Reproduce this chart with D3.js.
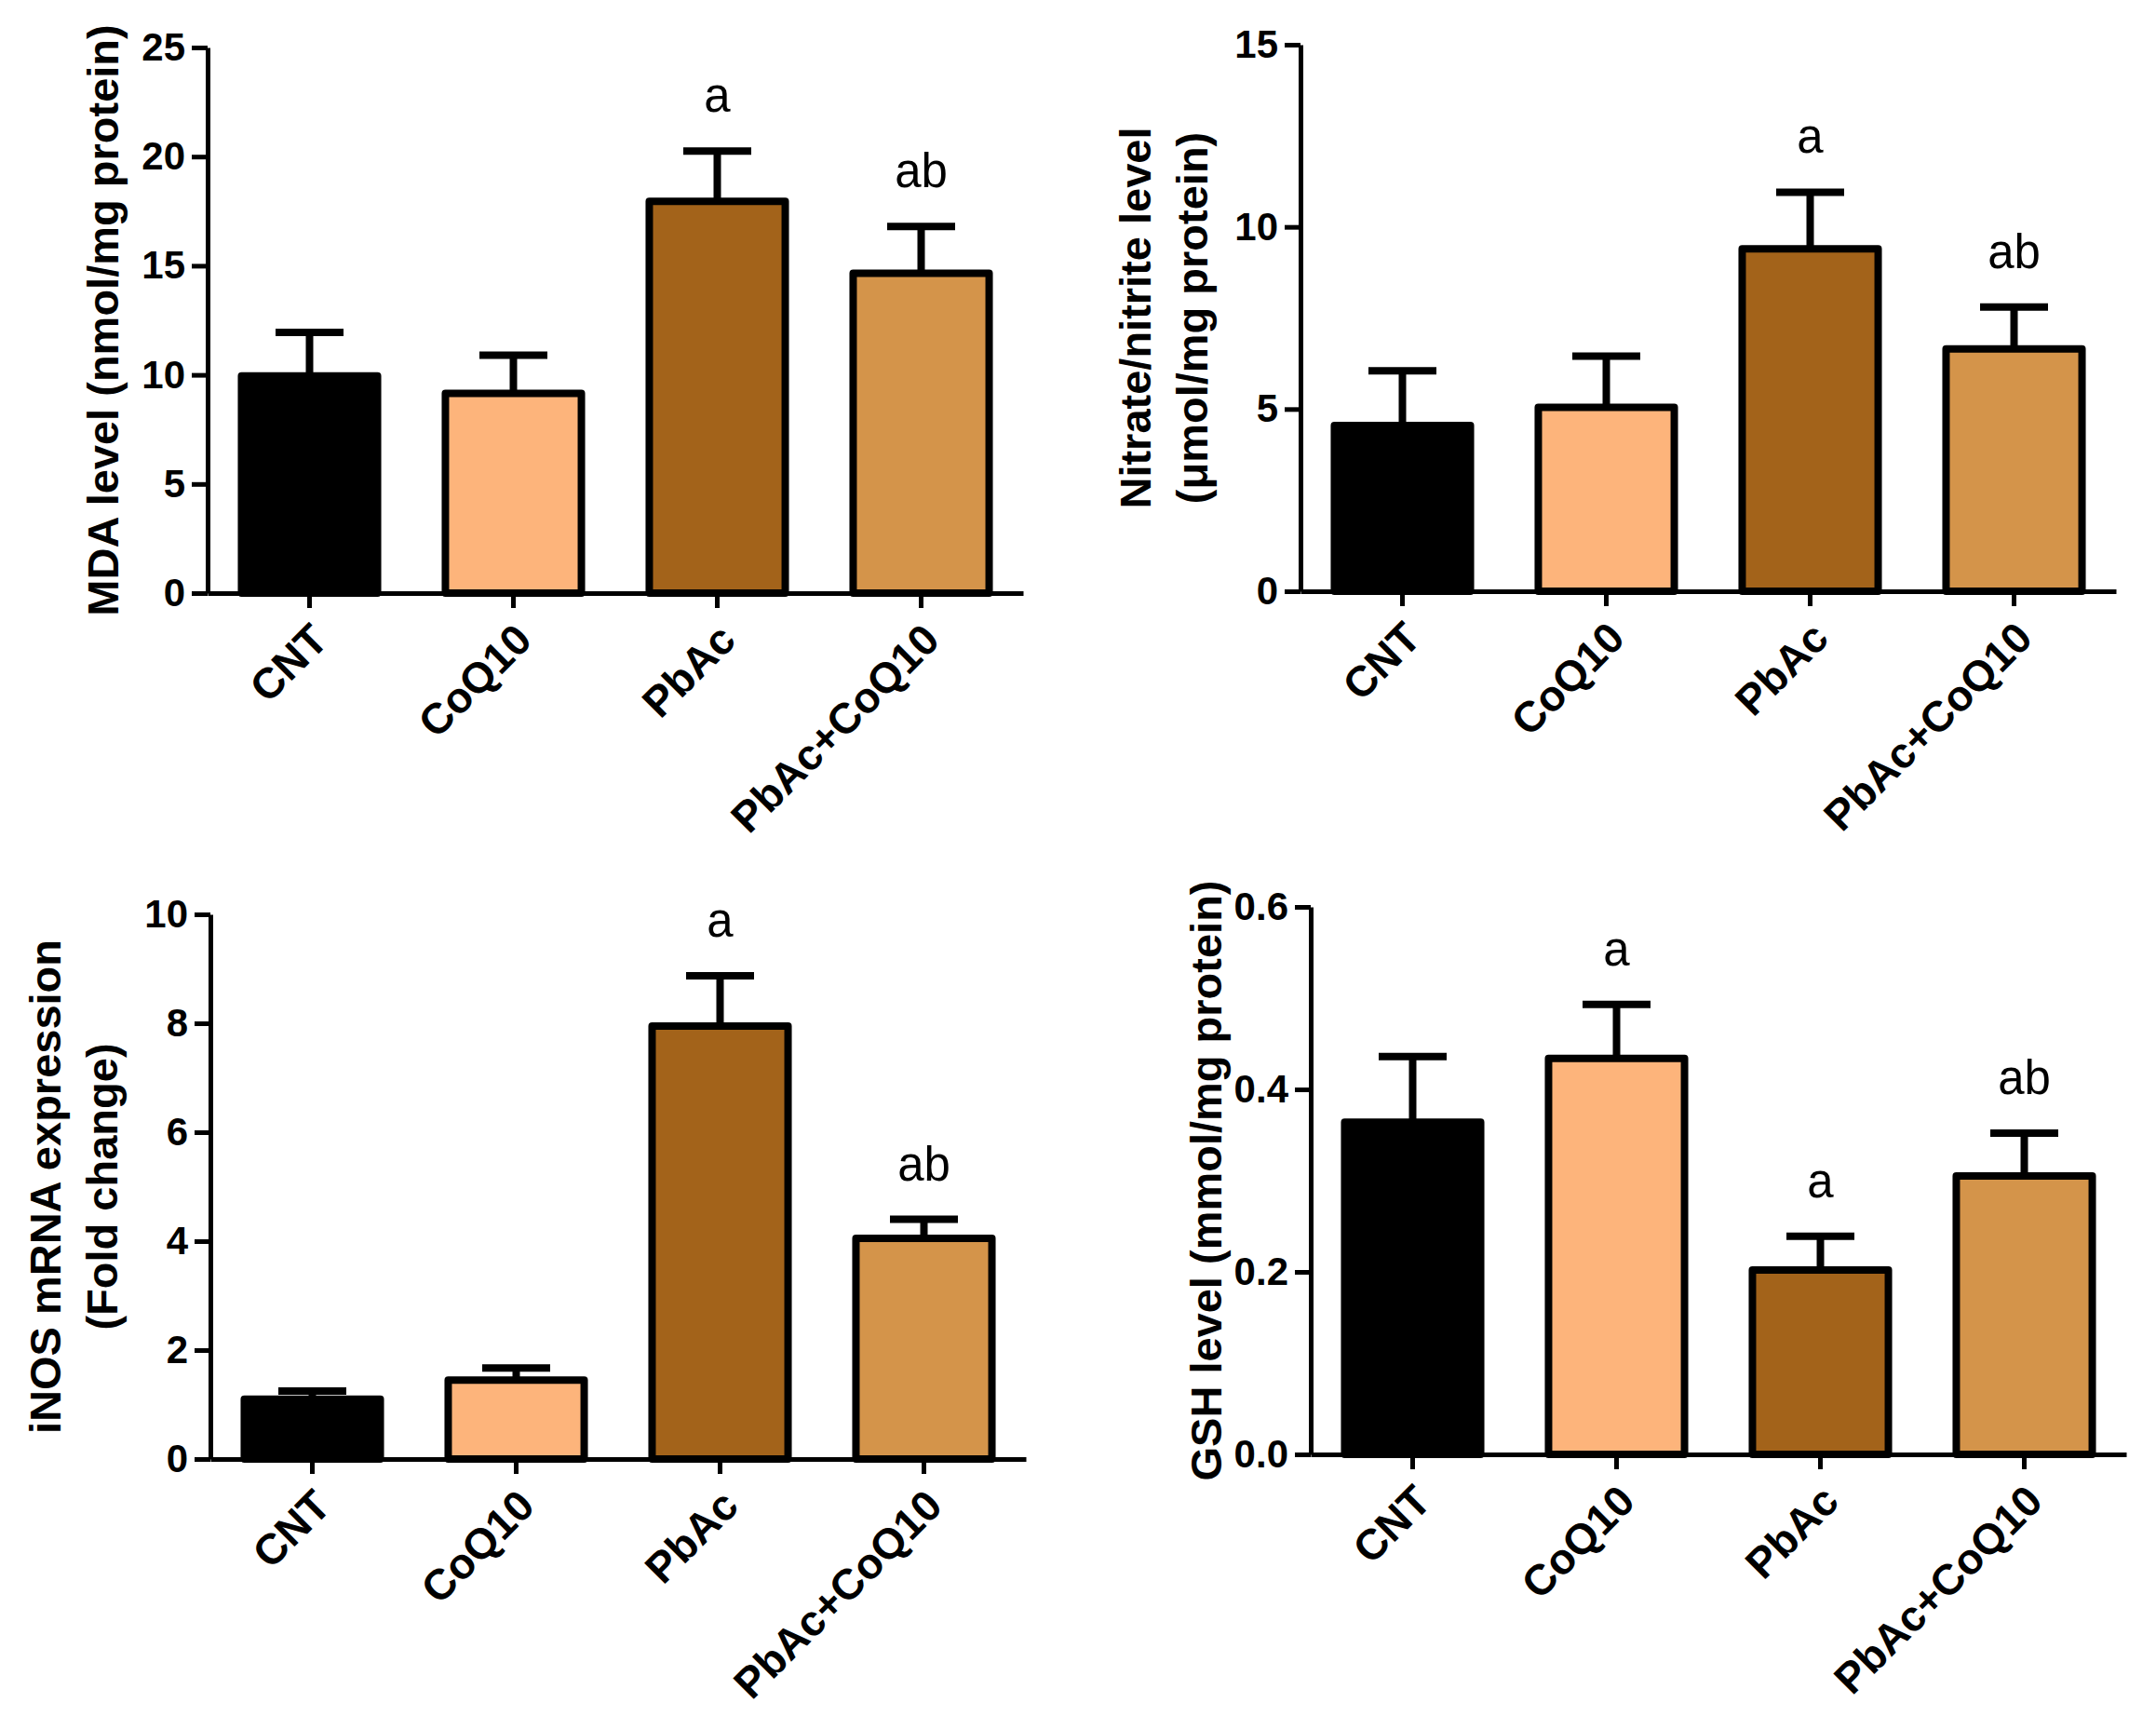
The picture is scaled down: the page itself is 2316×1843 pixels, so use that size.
<!DOCTYPE html>
<html>
<head>
<meta charset="utf-8">
<script src="https://cdn.jsdelivr.net/npm/d3@7"></script>
<style>
  body { margin: 0; background: #fff; }
  svg { display: block; font-family: "Liberation Sans", Arial, sans-serif; }
  .axis path, .axis line { stroke: #000; stroke-width: 5; }
  .axis text { font-size: 42px; font-weight: bold; fill: #000; }
  .cat-label { font-size: 46px; font-weight: bold; }
  .y-title { font-size: 47px; font-weight: bold; }
  .sig { font-size: 51px; }
</style>
</head>
<body>
<div id="chart"></div>
<script>
const width = 2316;
const height = 1843;

const groups = ["CNT", "CoQ10", "PbAc", "PbAc+CoQ10"];
const barColors = ["#000000", "#fdb47b", "#a3631a", "#d4944a"];

const mdaMean = [9.95, 9.15, 17.95, 14.65];
const mdaSem = [2.0, 1.75, 2.3, 2.15];
const mdaLetters = ["", "", "a", "ab"];
const mdaTicks = [0, 5, 10, 15, 20, 25];

const nitrateMean = [4.55, 5.05, 9.4, 6.65];
const nitrateSem = [1.5, 1.4, 1.55, 1.15];
const nitrateLetters = ["", "", "a", "ab"];
const nitrateTicks = [0, 5, 10, 15];

const inosMean = [1.1, 1.45, 7.95, 4.05];
const inosSem = [0.15, 0.22, 0.92, 0.35];
const inosLetters = ["", "", "a", "ab"];
const inosTicks = [0, 2, 4, 6, 8, 10];

const gshMean = [0.364, 0.434, 0.202, 0.305];
const gshSem = [0.072, 0.059, 0.037, 0.047];
const gshLetters = ["", "a", "a", "ab"];
const gshTicks = [0, 0.2, 0.4, 0.6];

const BAR_STROKE = 8;
const CAP_WIDTH = 73;

const svg = d3.select("#chart")
  .append("svg")
  .attr("width", width)
  .attr("height", height);

svg.append("rect").attr("width", width).attr("height", height).attr("fill", "#fff");

function drawPanel(opts) {
  const { left, right, top, bottom, means, sems, letters, ticks, format, title } = opts;

  const x = d3.scaleBand()
    .domain(groups)
    .range([left, right])
    .paddingInner(0.333)
    .paddingOuter(0.1665);

  const y = d3.scaleLinear()
    .domain([ticks[0], ticks[ticks.length - 1]])
    .range([bottom, top]);

  const g = svg.append("g");

  const rows = groups.map((name, i) => ({
    name,
    mean: means[i],
    sem: sems[i],
    letter: letters[i],
    color: barColors[i],
  }));

  // error bars (upper only), drawn under the bars
  g.selectAll(".err")
    .data(rows)
    .join("line")
    .attr("x1", d => x(d.name) + x.bandwidth() / 2)
    .attr("x2", d => x(d.name) + x.bandwidth() / 2)
    .attr("y1", d => y(d.mean))
    .attr("y2", d => y(d.mean + d.sem))
    .attr("stroke", "#000")
    .attr("stroke-width", BAR_STROKE);

  g.selectAll(".cap")
    .data(rows)
    .join("line")
    .attr("x1", d => x(d.name) + x.bandwidth() / 2 - CAP_WIDTH / 2)
    .attr("x2", d => x(d.name) + x.bandwidth() / 2 + CAP_WIDTH / 2)
    .attr("y1", d => y(d.mean + d.sem))
    .attr("y2", d => y(d.mean + d.sem))
    .attr("stroke", "#000")
    .attr("stroke-width", BAR_STROKE);

  g.selectAll(".bar")
    .data(rows)
    .join("rect")
    .attr("x", d => x(d.name))
    .attr("width", x.bandwidth())
    .attr("y", d => y(d.mean))
    .attr("height", d => y(0) - y(d.mean))
    .attr("fill", d => d.color)
    .attr("stroke", "#000")
    .attr("stroke-width", BAR_STROKE)
    .attr("stroke-linejoin", "round");

  g.selectAll(".sig")
    .data(rows.filter(d => d.letter))
    .join("text")
    .attr("class", "sig")
    .attr("x", d => x(d.name) + x.bandwidth() / 2)
    .attr("y", d => y(d.mean + d.sem) - 42)
    .attr("text-anchor", "middle")
    .text(d => d.letter);

  g.append("g")
    .attr("class", "axis")
    .attr("transform", `translate(0,${bottom})`)
    .call(d3.axisBottom(x).tickSize(16).tickSizeOuter(0).tickFormat(""));

  g.append("g")
    .attr("class", "axis")
    .attr("transform", `translate(${left},0)`)
    .call(d3.axisLeft(y).tickValues(ticks).tickSize(17).tickSizeOuter(0).tickPadding(7).tickFormat(format));

  g.selectAll(".cat-label")
    .data(groups)
    .join("text")
    .attr("class", "cat-label")
    .attr("text-anchor", "end")
    .attr("transform", d => `translate(${x(d) + x.bandwidth() / 2 + 22},${bottom + 53}) rotate(-45)`)
    .text(d => d);

  const midY = (top + bottom) / 2;
  const t = g.append("text")
    .attr("class", "y-title")
    .attr("text-anchor", "middle")
    .attr("transform", `translate(${left},${midY}) rotate(-90)`);

  if (title.length === 1) {
    t.append("tspan").attr("x", 0).attr("y", -96).text(title[0]);
  } else {
    t.append("tspan").attr("x", 0).attr("y", -161).text(title[0]);
    t.append("tspan").attr("x", 0).attr("y", -100).text(title[1]);
  }
}

drawPanel({
  left: 223, right: 1099, top: 51, bottom: 637,
  means: mdaMean, sems: mdaSem, letters: mdaLetters, ticks: mdaTicks,
  format: d3.format("d"),
  title: ["MDA level (nmol/mg protein)"],
});

drawPanel({
  left: 1397, right: 2273, top: 48, bottom: 635,
  means: nitrateMean, sems: nitrateSem, letters: nitrateLetters, ticks: nitrateTicks,
  format: d3.format("d"),
  title: ["Nitrate/nitrite level", "(\u03bcmol/mg protein)"],
});

drawPanel({
  left: 226, right: 1102, top: 982, bottom: 1567,
  means: inosMean, sems: inosSem, letters: inosLetters, ticks: inosTicks,
  format: d3.format("d"),
  title: ["iNOS mRNA expression", "(Fold change)"],
});

drawPanel({
  left: 1408, right: 2284, top: 974, bottom: 1562,
  means: gshMean, sems: gshSem, letters: gshLetters, ticks: gshTicks,
  format: d3.format(".1f"),
  title: ["GSH level (mmol/mg protein)"],
});
</script>
</body>
</html>
